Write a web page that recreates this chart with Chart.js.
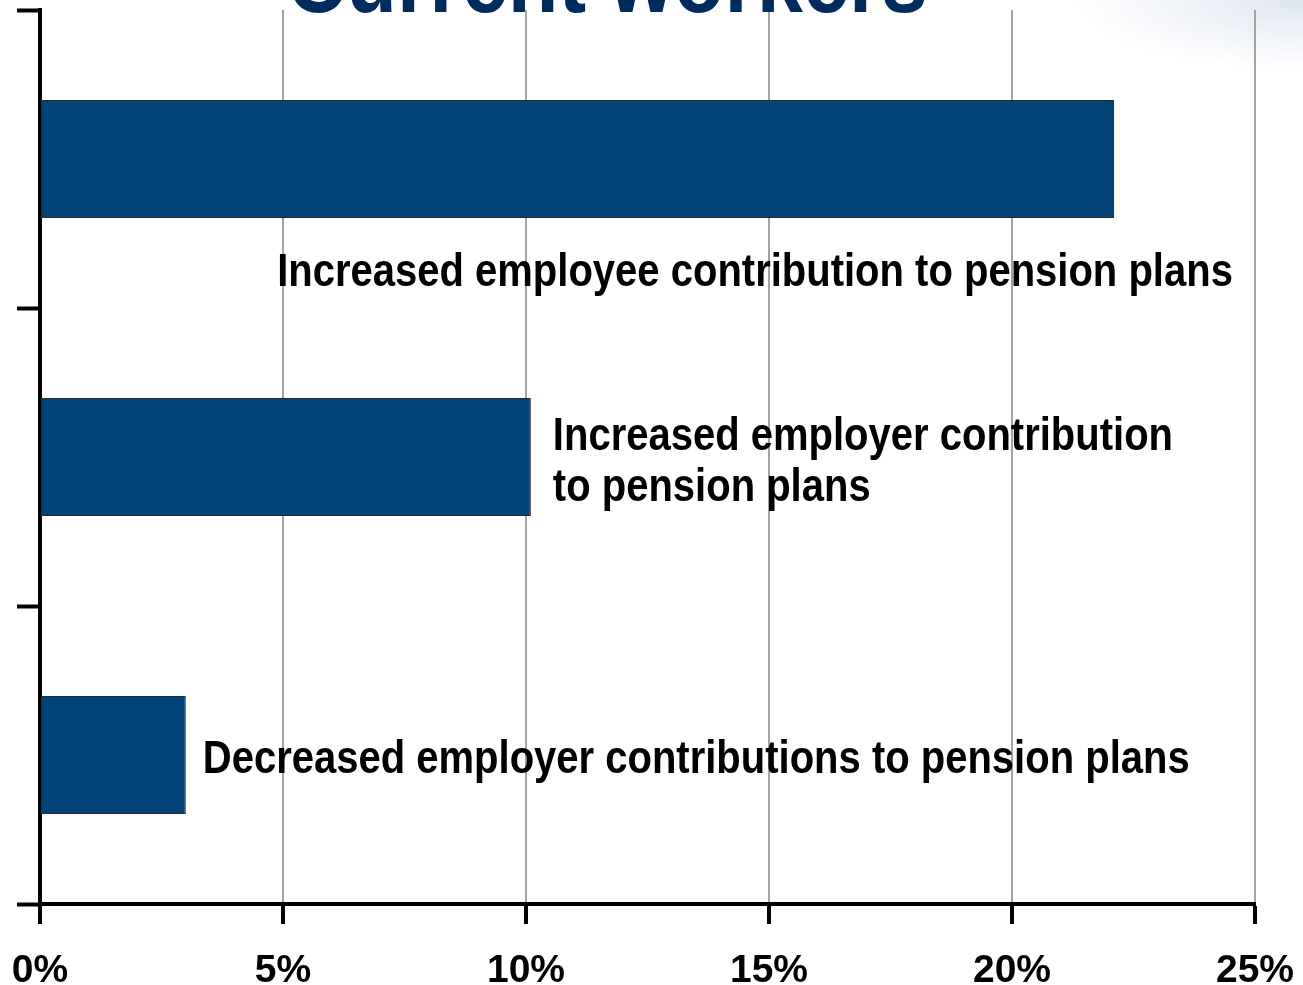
<!DOCTYPE html>
<html>
<head>
<meta charset="utf-8">
<title>Current workers</title>
<script src="https://cdn.jsdelivr.net/npm/chart.js@4.4.1/dist/chart.umd.min.js"></script>
<style>
  html, body {
    margin: 0;
    padding: 0;
    width: 1303px;
    height: 985px;
    overflow: hidden;
    background:
      radial-gradient(ellipse 230px 70px at 100% 0%, rgba(196, 208, 228, 0.55), rgba(255, 255, 255, 0) 100%),
      #ffffff;
  }
  #wrap { position: relative; width: 1303px; height: 985px; }
  canvas { display: block; }
</style>
</head>
<body>
<div id="wrap"><canvas id="chart" width="1303" height="985"></canvas></div>
<script>
// Share of respondents reporting each change for current workers (%)
const categories = [
  'Increased employee contribution to pension plans',
  'Increased employer contribution to pension plans',
  'Decreased employer contributions to pension plans'
];
const values = [22.1, 10.1, 3.0];
const labelLines = [
  ['Increased employee contribution to pension plans'],
  ['Increased employer contribution', 'to pension plans'],
  ['Decreased employer contributions to pension plans']
];
const xTicks = [0, 5, 10, 15, 20, 25];
const titleText = 'Current workers';

const FONT = '"Liberation Sans", Arial, Helvetica, sans-serif';
const BAR_BLUE = '#00447a';
const TEXT_STRETCH = 1.15;

// Chart title, partially running off the top edge of the page
const titlePlugin = {
  id: 'topTitle',
  afterDraw(chart) {
    const ctx = chart.ctx;
    ctx.save();
    ctx.font = 'bold 83px ' + FONT;
    ctx.fillStyle = '#002b5f';
    ctx.textAlign = 'center';
    ctx.textBaseline = 'alphabetic';
    ctx.translate(607, 12);
    ctx.scale(1, TEXT_STRETCH);
    ctx.fillText(titleText, 0, 0);
    ctx.restore();
  }
};

// Text labels placed next to / under their bars
const barLabelPlugin = {
  id: 'barLabels',
  afterDatasetsDraw(chart, args, opts) {
    const ctx = chart.ctx;
    const xScale = chart.scales.x;
    const meta = chart.getDatasetMeta(0);
    ctx.save();
    ctx.font = 'bold 40px ' + FONT;
    ctx.fillStyle = '#000000';
    ctx.textAlign = 'left';
    ctx.textBaseline = 'alphabetic';
    meta.data.forEach((bar, i) => {
      const place = opts.placement[i];
      const x = place.anchor === 'end' ? bar.x + place.dx : xScale.getPixelForValue(place.atValue);
      const y0 = bar.y + place.dy;
      labelLines[i].forEach((line, j) => {
        ctx.save();
        ctx.translate(x, y0 + j * opts.lineHeight);
        ctx.scale(1, TEXT_STRETCH);
        ctx.fillText(line, 0, 0);
        ctx.restore();
      });
    });
    ctx.restore();
  }
};

new Chart(document.getElementById('chart'), {
  type: 'bar',
  data: {
    labels: categories,
    datasets: [{
      data: values,
      backgroundColor: BAR_BLUE,
      borderColor: '#2a2a2a',
      borderWidth: 1,
      borderSkipped: false,
      categoryPercentage: 1.0,
      barPercentage: 0.396
    }]
  },
  options: {
    indexAxis: 'y',
    responsive: false,
    animation: false,
    devicePixelRatio: 1,
    layout: { padding: { top: 10, right: 48, left: 0, bottom: 0 } },
    plugins: {
      legend: { display: false },
      tooltip: { enabled: false },
      title: { display: false },
      barLabels: {
        lineHeight: 51,
        placement: [
          { anchor: 'value', atValue: 4.88, dy: 127 },
          { anchor: 'end', dx: 22, dy: -7 },
          { anchor: 'end', dx: 17, dy: 18 }
        ]
      }
    },
    scales: {
      x: {
        type: 'linear',
        position: 'bottom',
        min: xTicks[0],
        max: xTicks[xTicks.length - 1],
        afterBuildTicks(scale) {
          scale.ticks = xTicks.map(v => ({ value: v }));
        },
        afterFit(scale) {
          scale.height = 81;
          scale.paddingLeft = 0;
          scale.paddingRight = 0;
        },
        grid: {
          color: '#a3a3a3',
          lineWidth: 2,
          drawTicks: true,
          tickLength: 20,
          tickColor: '#000000',
          tickWidth: 4
        },
        border: { display: true, color: '#000000', width: 4 },
        ticks: {
          padding: 24,
          color: '#000000',
          font: { family: FONT, size: 39, weight: 'bold' },
          maxRotation: 0,
          autoSkip: false,
          callback: v => v + '%'
        }
      },
      y: {
        type: 'category',
        position: 'left',
        offset: true,
        afterFit(scale) {
          scale.width = 40;
          scale.paddingTop = 0;
          scale.paddingBottom = 0;
        },
        grid: {
          offset: true,
          drawOnChartArea: false,
          drawTicks: true,
          tickLength: 23,
          tickColor: '#000000',
          tickWidth: 4
        },
        border: { display: true, color: '#000000', width: 4 },
        ticks: { display: false }
      }
    }
  },
  plugins: [barLabelPlugin, titlePlugin]
});
</script>
</body>
</html>
